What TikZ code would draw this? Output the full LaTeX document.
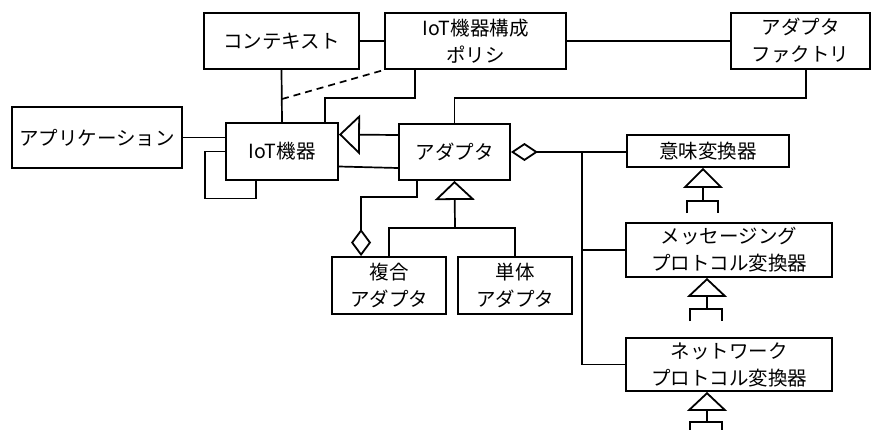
\documentclass[tikz,border=0pt]{standalone}
\usepackage{fontspec}
\setmainfont{Noto Sans CJK JP}
\usetikzlibrary{arrows.meta}
\tikzset{
  box/.style={draw, line width=1.9pt, inner sep=0pt, align=center,
    font=\fontsize{19.5}{27}\selectfont},
  conn/.style={line width=1.7pt},
  gen/.style={-{Triangle[open,length=#1,width=40pt,line width=1.8pt]}},
  gen/.default=20pt,
  agg/.style={-{Diamond[open,length=27pt,width=20pt,line width=1.8pt]}},
}
\begin{document}
\begin{tikzpicture}[x=1pt,y=-1pt]
\useasboundingbox (0,0) rectangle (874,429);
% boxes
\node[box,minimum width=155pt,minimum height=56pt] (ctx) at (281.5,41) {コンテキスト};
\node[box,minimum width=181pt,minimum height=56pt] (pol) at (475.5,41) {IoT機器構成\\ポリシ};
\node[box,minimum width=139pt,minimum height=56pt] (fac) at (800.5,41) {アダプタ\\ファクトリ};
\node[box,minimum width=170pt,minimum height=61pt] (app) at (97,137.5) {アプリケーション};
\node[box,minimum width=112pt,minimum height=57pt] (iot) at (282,151.5) {IoT機器};
\node[box,minimum width=111pt,minimum height=56pt] (adp) at (454.5,152) {アダプタ};
\node[box,minimum width=162pt,minimum height=32pt] (imi) at (708,151) {意味変換器};
\node[box,minimum width=206pt,minimum height=54pt] (msg) at (729,250) {メッセージング\\プロトコル変換器};
\node[box,minimum width=206pt,minimum height=53pt] (net) at (729,364.5) {ネットワーク\\プロトコル変換器};
\node[box,minimum width=114pt,minimum height=57pt] (fuk) at (389,285.5) {複合\\アダプタ};
\node[box,minimum width=114pt,minimum height=57pt] (tan) at (515,285.5) {単体\\アダプタ};
% top connectors
\draw[conn] (ctx.east) -- (pol.west);
\draw[conn] (pol.east) -- (fac.west);
\draw[conn] (ctx.south) -- (iot.north);
\coordinate (dj) at (282,99);
\draw[conn,dash pattern=on 7pt off 5pt] (dj) -- (pol.south west);
\draw[conn] ([xshift=31pt]pol.south west) -- ++(0,28) -| ([xshift=100pt]iot.north west);
\draw[conn] ([xshift=76pt]fac.south west) -- ++(0,28) -| (adp.north);
% application
\draw[conn] (app.east) -- (app.east -| iot.west);
% IoT device / adapter
\draw[conn,gen=21pt] ([yshift=17pt]adp.west) -- ([yshift=17pt]iot.east);
\draw[conn] ([yshift=-15pt]iot.east) -- ([yshift=-16pt]adp.west);
\draw[conn] (iot.west) -- ++(-20,0) -- ++(0,47) -| ([xshift=31pt]iot.south west);
% composite
\draw[conn,agg] ([xshift=19pt]adp.south west) -- ++(0,16) -| ([xshift=30pt]fuk.north west);
\coordinate (j) at (455,228);
\draw[conn] (fuk.north) |- (j) -| (tan.north);
\draw[conn,gen=19pt] (j) -- (adp.south);
% converters
\coordinate (v) at (582,152);
\draw[line width=2.6pt,{Diamond[open,length=27pt,width=18pt,line width=1.8pt]}-] (adp.east) -- (v);
\draw[conn] (v) -- (v -| imi.west);
\draw[line width=2.4pt] (v) -- (582,249);
\draw[conn] (v) |- (msg.west);
\draw[conn] (v) |- (net.west);
% inheritance stubs
\coordinate (s1) at (703,201);
\draw[conn,gen=20pt] (s1) -- (s1 |- imi.south);
\draw[conn] (687,213) |- (s1) -| (718,213);
\coordinate (s2) at (707,309);
\draw[conn,gen=19pt] (s2) -- (s2 |- msg.south);
\draw[conn] (690,321) |- (s2) -| (722,321);
\coordinate (s3) at (707,422);
\draw[conn,gen=19pt] (s3) -- (s3 |- net.south);
\draw[conn] (690,434) |- (s3) -| (722,434);
\end{tikzpicture}
\end{document}
